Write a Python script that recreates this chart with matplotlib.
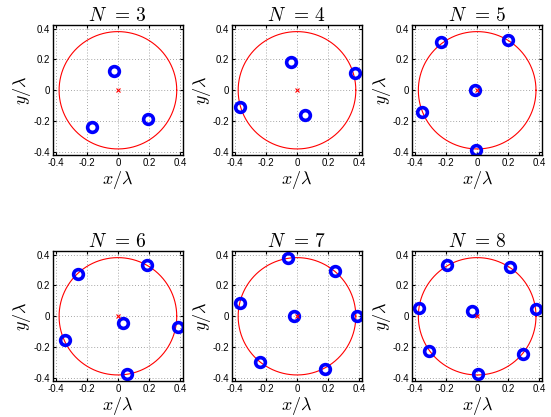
import numpy as np
import matplotlib
matplotlib.use("Agg")
import matplotlib.pyplot as plt

plt.rcParams["mathtext.fontset"] = "cm"
plt.rcParams["axes.unicode_minus"] = False
plt.rcParams["font.family"] = "Liberation Sans"

R = 0.38  # radius of the red reference circle

N_VALUES = [3, 4, 5, 6, 7, 8]

X = {
    3: [-0.025, -0.168, 0.196],
    4: [-0.039, 0.372, -0.365, 0.054],
    5: [-0.017, -0.235, 0.200, -0.354, -0.009],
    6: [-0.256, 0.190, 0.030, -0.343, 0.390, 0.059],
    7: [-0.060, 0.246, -0.370, -0.017, 0.387, -0.239, 0.178],
    8: [-0.196, 0.209, -0.376, -0.033, 0.380, -0.311, 0.298, 0.004],
}
Y = {
    3: [0.124, -0.235, -0.189],
    4: [0.180, 0.113, -0.107, -0.161],
    5: [0.000, 0.310, 0.326, -0.143, -0.385],
    6: [0.275, 0.335, -0.041, -0.155, -0.071, -0.374],
    7: [0.376, 0.296, 0.087, 0.002, 0.002, -0.298, -0.339],
    8: [0.330, 0.322, 0.054, 0.033, 0.048, -0.226, -0.243, -0.374],
}

TICKS = [-0.4, -0.2, 0, 0.2, 0.4]
TICK_LABELS = ["-0.4", "-0.2", "0", "0.2", "0.4"]

fig = plt.figure(figsize=(5.51, 4.17), dpi=100)

lefts = [0.096, 0.421, 0.748]
bottoms = [0.628, 0.086]
w, h = 0.236, 0.311

theta = np.linspace(0, 2 * np.pi, 400)

for k, n in enumerate(N_VALUES):
    row, col = divmod(k, 3)
    ax = fig.add_axes([lefts[col], bottoms[row], w, h])
    ax.plot(R * np.cos(theta), R * np.sin(theta), color="red", lw=0.8)
    ax.plot(X[n], Y[n], "o", ms=7, mfc="none", mec="blue", mew=2.6)
    ax.plot([0], [0], "x", color="red", ms=3.5, mew=0.8)

    ax.set_xlim(-0.42, 0.42)
    ax.set_ylim(-0.42, 0.42)
    ax.set_xticks(TICKS)
    ax.set_yticks(TICKS)
    ax.set_xticklabels(TICK_LABELS)
    ax.set_yticklabels(TICK_LABELS)
    ax.tick_params(direction="in", top=True, right=True, length=2.5,
                   labelsize=7, pad=2)
    ax.grid(True, linestyle=(0, (1, 2.5)), color="#888888", lw=0.6)
    for s in ax.spines.values():
        s.set_linewidth(1.0)

    ax.set_title(rf"$N\;\,=\,{n}$", fontsize=14, pad=3)
    ax.set_xlabel(r"$x/\lambda$", fontsize=13, labelpad=1)
    ax.set_ylabel(r"$y/\lambda$", fontsize=13, labelpad=0)

fig.savefig("out.png", dpi=100)
